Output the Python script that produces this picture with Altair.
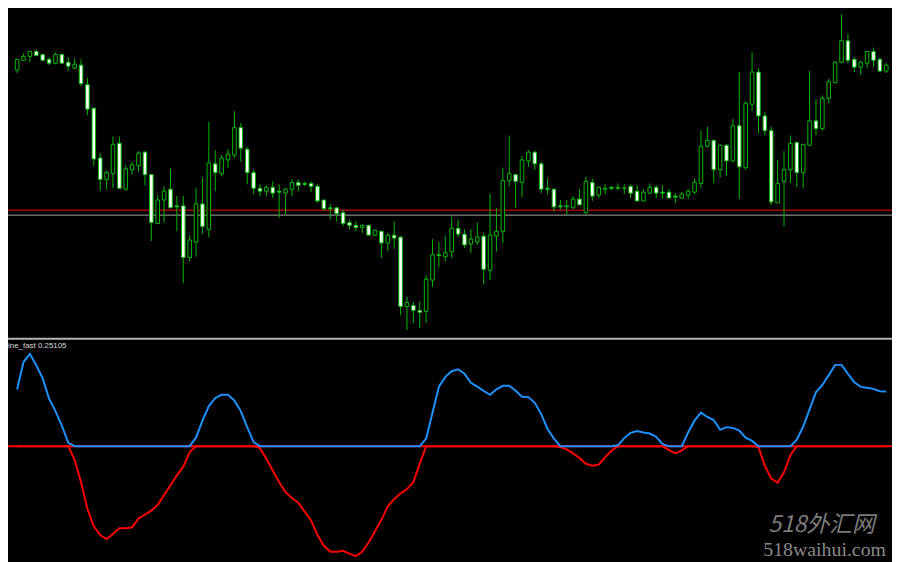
import altair as alt
import pandas as pd

# ---------------- data ----------------
open_p = [339,349,353,358,355,350,346,355,347,341,
          344,324,300,249,227,233,264,217,237,241,
          255,232,182,206,217,200,200,147,163,202,
          176,243,233,247,252,280,258,234,218,215,
          219,215,213,217,224,223,223,220,206,198,
          198,193,183,180,178,180,170,174,162,170,
          168,97,98,93,92,124,150,148,153,177,
          171,161,163,169,134,169,174,226,232,224,
          246,255,243,218,217,200,199,198,207,193,
          224,211,217,219,218,218,220,215,205,213,
          219,214,214,210,208,211,214,223,261,267,
          237,262,246,282,239,304,337,292,277,203,
          225,237,265,234,262,287,279,310,326,347,
          369,350,342,346,358,350,338]

high_p = [350,356,358,360,356,352,357,356,352,351,
          350,331,300,254,236,271,271,242,245,256,
          256,232,211,220,238,210,210,170,218,229,
          286,257,252,258,297,285,260,237,222,221,
          225,222,218,227,227,225,225,222,206,202,
          199,196,186,184,181,181,176,174,172,184,
          169,107,102,102,129,166,163,169,189,186,
          176,176,183,172,212,198,239,272,233,251,
          257,256,245,228,218,206,206,210,217,230,
          228,220,222,220,223,222,222,221,217,223,
          221,221,217,213,214,217,228,277,281,268,
          263,263,289,337,307,357,341,296,281,247,
          256,272,265,263,338,309,313,330,348,396,
          376,352,348,358,362,352,346]

low_p = [336,349,347,353,349,344,345,346,338,340,
         323,293,241,215,217,218,218,216,232,235,
         221,164,182,183,198,174,121,143,148,171,
         168,215,230,239,249,245,222,212,210,210,
         208,188,191,210,215,220,214,203,195,186,
         184,179,176,174,172,170,169,147,154,156,
         88,73,80,75,80,117,137,143,147,168,
         157,152,160,120,124,153,162,220,198,209,
         240,237,213,212,194,196,191,197,201,191,
         205,208,212,216,216,212,208,205,205,212,
         208,207,208,203,207,207,212,218,260,223,
         229,231,245,207,237,297,274,272,201,203,
         179,223,219,218,262,272,277,305,326,346,
         346,337,334,341,342,337,336]

close_p = [350,353,358,354,349,346,355,346,343,345,
           325,299,248,227,234,263,218,238,242,254,
           232,183,206,215,198,199,147,165,202,179,
           244,234,249,253,280,259,234,218,215,219,
           213,214,217,224,221,222,220,205,197,197,
           192,182,180,178,180,170,175,162,170,167,
           97,101,93,91,125,150,149,152,177,171,
           160,166,168,135,170,174,226,233,225,247,
           255,243,217,217,199,199,200,207,201,225,
           210,219,218,218,219,218,213,205,214,219,
           213,213,208,209,212,215,224,261,267,237,
           262,246,282,240,305,337,292,277,204,223,
           237,264,234,263,287,279,310,327,347,369,
           349,342,347,358,349,338,344]

osc = [0.260,0.386,0.423,0.371,0.311,0.218,0.161,0.094,0.015,-0.063,
       -0.166,-0.287,-0.368,-0.408,-0.426,-0.403,-0.377,-0.377,-0.372,-0.332,
       -0.314,-0.296,-0.269,-0.224,-0.179,-0.134,-0.094,-0.027,0.040,0.117,
       0.184,0.221,0.236,0.236,0.209,0.161,0.087,0.019,-0.009,-0.058,
       -0.112,-0.166,-0.211,-0.238,-0.260,-0.300,-0.341,-0.408,-0.457,-0.484,
       -0.484,-0.480,-0.493,-0.505,-0.484,-0.442,-0.391,-0.338,-0.277,-0.242,
       -0.217,-0.197,-0.165,-0.081,0.035,0.154,0.273,0.318,0.344,0.353,
       0.333,0.291,0.273,0.254,0.236,0.261,0.277,0.277,0.254,0.227,
       0.225,0.199,0.147,0.079,0.035,-0.004,-0.015,-0.033,-0.054,-0.081,
       -0.090,-0.085,-0.051,-0.021,0.004,0.037,0.061,0.069,0.063,0.058,
       0.043,0.009,-0.018,-0.033,-0.019,0.064,0.117,0.154,0.134,0.120,
       0.075,0.087,0.084,0.072,0.039,0.024,-0.004,-0.090,-0.149,-0.167,
       -0.120,-0.040,0.030,0.090,0.169,0.248,0.281,0.326,0.373,0.373,
       0.332,0.293,0.272,0.268,0.263,0.252,0.251]

level_red = 195.6
level_grey = 190.5
label_text = "ine_fast 0.25105"
wm_cn = "518外汇网"
wm_en = "518waihui.com"

# ---------------- styling ----------------
W, H = 892, 554
GREEN = "#00b800"
RED = "#ff0000"
BLUE = "#1e90ff"

bars = list(range(len(close_p)))
df = pd.DataFrame({"bar": bars, "open": open_p, "high": high_p,
                   "low": low_p, "close": close_p})
dfo = pd.DataFrame({"bar": bars, "osc": osc})

xs = alt.Scale(domain=[-0.653, 136.12], nice=False, zero=False)
X = alt.X("bar:Q", scale=xs, axis=None)
yp = alt.Scale(domain=[65, 400], range=[330.2, 0], nice=False, zero=False)
yo = alt.Scale(domain=[-0.5201, 0.4976], range=[554, 330.2], nice=False, zero=False)

one = pd.DataFrame({"a": [0]})

hl_red = alt.Chart(pd.DataFrame({"lv": [level_red]})).mark_rule(
    color=RED, strokeWidth=1).encode(y=alt.Y("lv:Q", scale=yp, axis=None))
hl_grey = alt.Chart(pd.DataFrame({"lv": [level_grey]})).mark_rule(
    color="#a8a8a8", strokeWidth=1).encode(y=alt.Y("lv:Q", scale=yp, axis=None))

wicks = alt.Chart(df).mark_rule(color=GREEN, strokeWidth=1).encode(
    x=X, y=alt.Y("low:Q", scale=yp, axis=None), y2="high:Q")

bodies = alt.Chart(df).mark_bar(size=3.6, stroke=GREEN, strokeWidth=1).encode(
    x=X, y=alt.Y("open:Q", scale=yp, axis=None), y2="close:Q",
    fill=alt.when(alt.datum.close < alt.datum.open)
           .then(alt.value("white")).otherwise(alt.value("black")))

upper = alt.layer(hl_grey, hl_red, wicks, bodies)

zero = alt.Chart(pd.DataFrame({"z": [0.0]})).mark_rule(
    color=RED, strokeWidth=2).encode(y=alt.Y("z:Q", scale=yo, axis=None))
red_line = alt.Chart(dfo).transform_calculate(neg="min(datum.osc, 0)").mark_line(
    color=RED, strokeWidth=2).encode(x=X, y=alt.Y("neg:Q", scale=yo, axis=None))
blue_line = alt.Chart(dfo).transform_calculate(pos="max(datum.osc, 0)").mark_line(
    color=BLUE, strokeWidth=2).encode(x=X, y=alt.Y("pos:Q", scale=yo, axis=None))

lower = alt.layer(zero, red_line, blue_line)

sep = alt.Chart(one).mark_rule(color="#b4b4b4", strokeWidth=2).encode(
    x=alt.value(0), x2=alt.value(W), y=alt.value(331.2))

lbl = alt.Chart(one).mark_text(text=label_text, align="left", baseline="middle",
                               font="Liberation Sans", fontSize=8, color="#d8d8d8").encode(
    x=alt.value(0), y=alt.value(339))

wm1 = alt.Chart(one).mark_text(text=wm_cn, align="center", baseline="middle",
                               font="Noto Sans CJK SC", fontSize=23, fontStyle="italic",
                               color="#7c7c7c").encode(x=alt.value(821), y=alt.value(519))
wm2 = alt.Chart(one).mark_text(text=wm_en, align="center", baseline="middle",
                               font="Liberation Serif", fontSize=20,
                               color="#8a8a8a").encode(x=alt.value(824), y=alt.value(544))

chart = alt.layer(upper, lower, sep, lbl, wm1, wm2).resolve_scale(
    y="independent").properties(
    width=W, height=H, background="black", padding=0,
    autosize=alt.AutoSizeParams(type="none")
).configure_view(stroke=None)

chart.save("out.html", embed_options={"renderer": "svg", "actions": False})
